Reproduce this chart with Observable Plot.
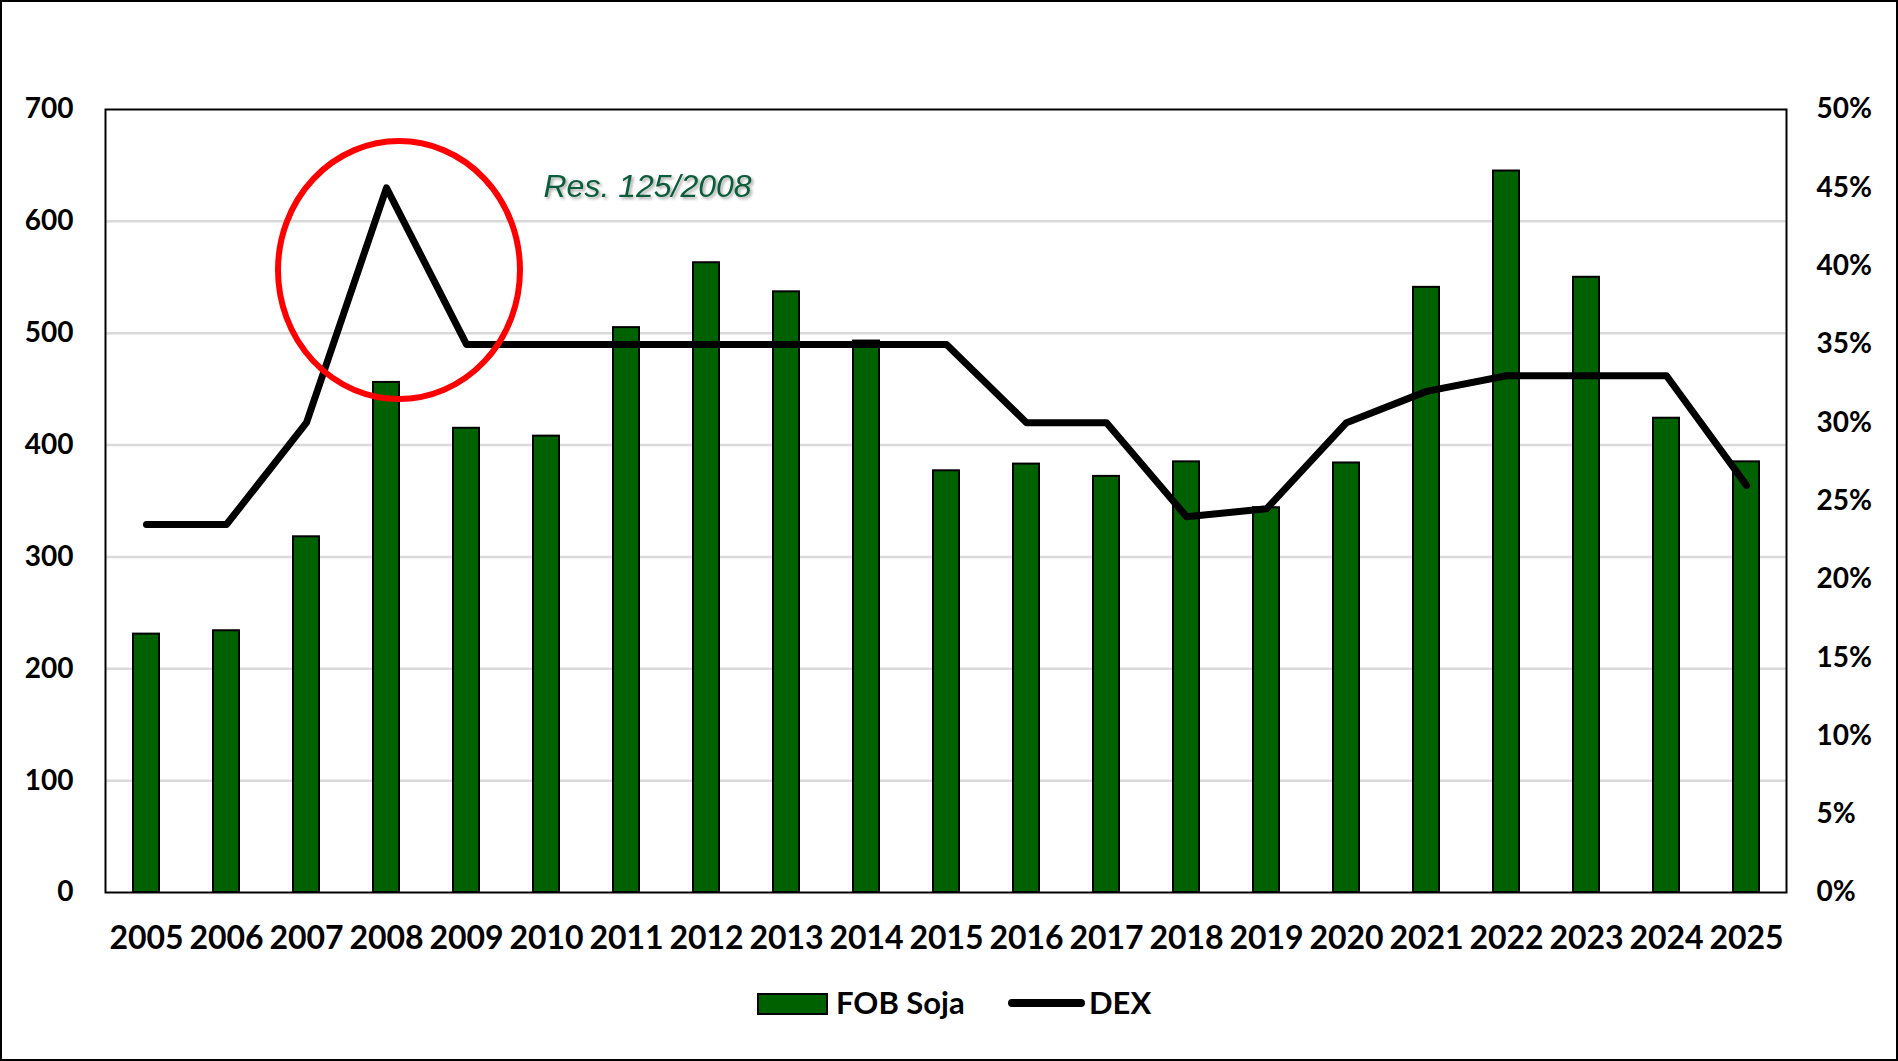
<!DOCTYPE html>
<html>
<head>
<meta charset="utf-8">
<script src="https://cdn.jsdelivr.net/npm/d3@7"></script>
<script src="https://cdn.jsdelivr.net/npm/@observablehq/plot@0.6"></script>
<style>
  html, body { margin: 0; padding: 0; background: #fff; }
  #wrap { position: relative; width: 1898px; height: 1061px; background: #fff; overflow: hidden; }
  #border { position: absolute; left: 0; top: 0; width: 1898px; height: 1061px; box-sizing: border-box; border: 2px solid #000; pointer-events: none; }
  #chart svg { display: block; }
  g[font-style="italic"] text { filter: drop-shadow(2px 2px 1.5px rgba(0,0,0,0.35)); }
  .leg { position: absolute; font-family: Lato, "Open Sans", sans-serif; font-weight: bold; font-size: 31px; color: #000; line-height: 1; }
</style>
</head>
<body>
<div id="wrap">
  <div id="chart"></div>
  <div id="legend"></div>
  <div id="border"></div>
</div>
<script>
// ---- data ----
const years = ["2005","2006","2007","2008","2009","2010","2011","2012","2013","2014","2015","2016","2017","2018","2019","2020","2021","2022","2023","2024","2025"];
const fobSoja = [231, 234, 318, 456, 415, 408, 505, 563, 537, 493, 377, 383, 372, 385, 344, 384, 541, 645, 550, 424, 385];
const dexPct = [23.5, 23.5, 30, 45, 35, 35, 35, 35, 35, 35, 35, 30, 30, 24, 24.5, 30, 32, 33, 33, 33, 26];
const leftTicks = [0, 100, 200, 300, 400, 500, 600, 700];
const rightTicks = [0, 5, 10, 15, 20, 25, 30, 35, 40, 45, 50];
const seriesNames = ["FOB Soja", "DEX"];
const annotationText = "Res. 125/2008";
const annotationAt = {year: "2010", value: 631};
const highlightAt = {year: "2008", value: 556};

// right axis (percent) mapped onto left axis units: 50% <-> 700
const pctToLeft = 700 / 50;

const rows = years.map((y, i) => ({year: y, fob: fobSoja[i], dex: dexPct[i]}));

const W = 1898, H = 980;
const green = "#006100";

const ellipseMark = (index, scales) => {
  const x = scales.x(highlightAt.year) + scales.x.bandwidth() / 2 + 13;
  const y = scales.y(highlightAt.value);
  const e = document.createElementNS("http://www.w3.org/2000/svg", "ellipse");
  e.setAttribute("cx", x);
  e.setAttribute("cy", y);
  e.setAttribute("rx", 121);
  e.setAttribute("ry", 129);
  e.setAttribute("fill", "none");
  e.setAttribute("stroke", "#ff0000");
  e.setAttribute("stroke-width", 6);
  return e;
};

const chart = Plot.plot({
  width: W,
  height: H,
  marginLeft: 105,
  marginRight: 112,
  marginTop: 109,
  marginBottom: H - 892,
  style: {background: "#fff", fontFamily: "Lato, 'Open Sans', sans-serif", fontWeight: "bold", color: "#000", overflow: "visible"},
  x: {type: "band", domain: years, paddingInner: 0.675, paddingOuter: 0.3375, label: null},
  y: {domain: [0, 700], label: null},
  marks: [
    Plot.gridY(leftTicks.filter(d => d > 0 && d < 700), {stroke: "#d9d9d9", strokeOpacity: 1, strokeWidth: 2.5}),
    Plot.barY(rows, {x: "year", y: "fob", fill: green, stroke: "#000", strokeWidth: 2}),
    Plot.line(rows, {x: "year", y: d => d.dex * pctToLeft, stroke: "#000", strokeWidth: 7, strokeLinecap: "round", strokeLinejoin: "round"}),
    ellipseMark,
    Plot.text([annotationAt], {x: "year", y: "value", text: () => annotationText, textAnchor: "start", dx: -3, fontSize: 32, fontStyle: "italic", fontWeight: "normal", fontFamily: "'Liberation Sans', Arial, sans-serif", fill: "#0b5d3b"}),
    Plot.axisX({anchor: "bottom", tickSize: 0, tickPadding: 34, fontSize: 32, fontWeight: "bold", label: null}),
    Plot.axisY(leftTicks, {anchor: "left", tickSize: 0, tickPadding: 32, fontSize: 28, fontWeight: "bold", label: null}),
    Plot.axisY(rightTicks.map(p => p * pctToLeft), {anchor: "right", tickSize: 0, tickPadding: 30, fontSize: 28, fontWeight: "bold", label: null, tickFormat: v => Math.round(v / pctToLeft) + "%"}),
    Plot.frame({stroke: "#000", strokeWidth: 2})
  ]
});
document.getElementById("chart").appendChild(chart);

// ---- legend (HTML, below the svg) ----
const legend = document.getElementById("legend");
legend.innerHTML = `
  <div style="position:absolute;left:757px;top:993px;width:71px;height:22px;box-sizing:border-box;background:${green};border:2px solid #000;"></div>
  <div class="leg" style="left:836px;top:987px;">${seriesNames[0]}</div>
  <div style="position:absolute;left:1008px;top:999px;width:77px;height:8px;background:#000;border-radius:4px;"></div>
  <div class="leg" style="left:1089px;top:987px;">${seriesNames[1]}</div>
`;
</script>
</body>
</html>
